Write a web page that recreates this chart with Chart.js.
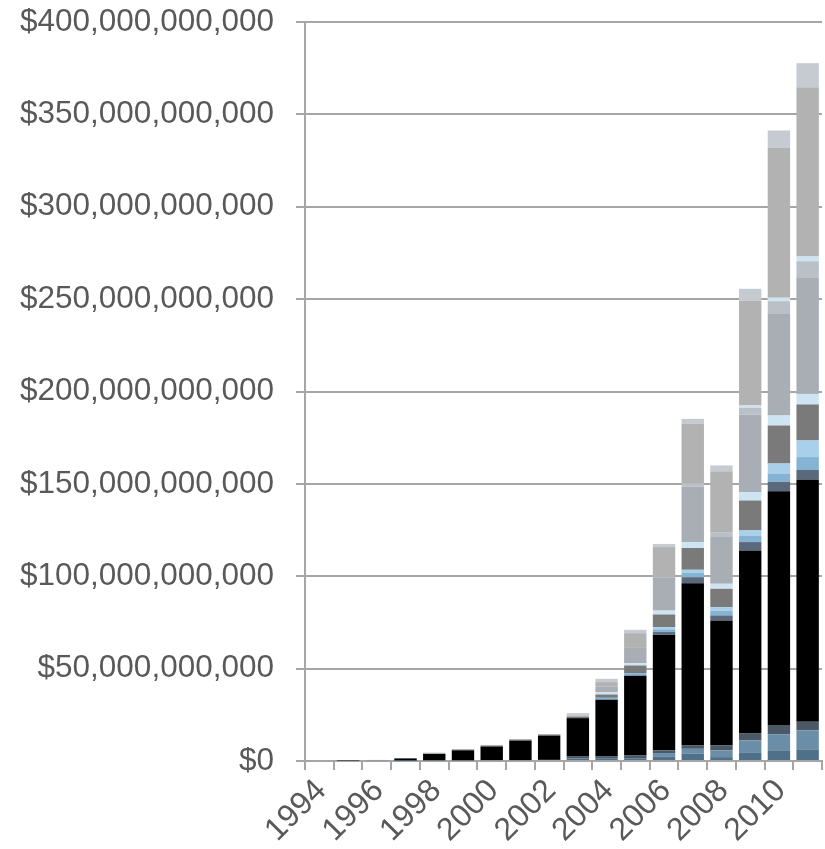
<!DOCTYPE html>
<html>
<head>
<meta charset="utf-8">
<script src="https://cdn.jsdelivr.net/npm/chart.js@4/dist/chart.umd.min.js"></script>
<style>
  html, body { margin: 0; padding: 0; background: #fff; }
  #wrap { width: 825px; height: 849px; }
</style>
</head>
<body>
<div id="wrap"><canvas id="chart"></canvas></div>
<script>
// years on the x axis
const years = ["1994","1995","1996","1997","1998","1999","2000","2001","2002",
  "2003","2004","2005","2006","2007","2008","2009","2010","2011"];

// stacked series, bottom to top, in billions of dollars
const darkSteel   = [0, 0, 0, 0.2, 0.4, 0.4, 0.5, 0.5, 0.6, 1.3, 1.5, 1.5, 2.5, 3.9, 2.1, 4.7, 5.8, 6.3];
const steelBlue   = [0, 0, 0, 0, 0, 0, 0, 0, 0, 0, 0, 0, 1.8, 2.7, 3.6, 6.5, 8.7, 10.3];
const darkSlate   = [0, 0, 0, 0, 0, 0, 0, 0, 0, 1.1, 1.1, 1.5, 1.5, 1.8, 2.7, 3.9, 5.0, 4.7];
const blackMain   = [0, 0.3, 0.5, 1.2, 3.4, 5.4, 7.4, 10.6, 13.2, 20.8, 30.5, 43.1, 62.6, 87.8, 67.7, 98.9, 126.5, 130.9];
const slate       = [0, 0, 0, 0, 0, 0, 0, 0, 0, 0, 0, 0, 1.4, 3.3, 2.7, 4.5, 5.1, 5.4];
const blue        = [0, 0, 0, 0, 0, 0, 0, 0, 0, 0, 1.1, 1.5, 1.5, 2.5, 2.5, 3.3, 4.5, 6.9];
const lightBlue   = [0, 0, 0, 0, 0, 0, 0, 0, 0, 0, 0, 0, 1.2, 1.5, 2.0, 3.0, 5.4, 9.0];
const darkGray    = [0, 0, 0, 0, 0, 0, 0, 0, 0, 0.9, 1.8, 4.1, 6.8, 11.8, 9.9, 16.2, 20.6, 19.5];
const paleBlue    = [0, 0, 0, 0, 0, 0, 0, 0, 0, 0, 1.3, 1.3, 2.1, 3.2, 2.7, 4.5, 5.4, 5.7];
const grayBlue    = [0, 0, 0, 0, 0, 0, 0, 0, 0, 0, 3.0, 8.6, 18.1, 30.1, 25.3, 42.1, 55.4, 63.2];
const lightGrayBl = [0, 0, 0, 0, 0, 0, 0, 0, 0, 0, 0, 0, 0, 1.8, 2.7, 3.6, 6.5, 8.6];
const paleBlue2   = [0, 0, 0, 0, 0, 0, 0, 0, 0, 0, 0, 0, 0, 0, 0, 1.2, 1.8, 2.6];
const gray        = [0, 0, 0, 0, 0.7, 0.7, 0.8, 0.8, 0.8, 0, 2.4, 7.6, 16.3, 32.1, 33.0, 56.9, 81.2, 91.6];
const topGray     = [0, 0, 0.1, 0.2, 0, 0, 0, 0, 0, 1.8, 1.8, 1.8, 1.7, 2.7, 3.1, 6.3, 9.4, 13.0];

const series = [
  [darkSteel, "#4f7089"],
  [steelBlue, "#6a8ea8"],
  [darkSlate, "#4b5866"],
  [blackMain, "#000000"],
  [slate, "#5a6a7c"],
  [blue, "#85b3d4"],
  [lightBlue, "#a8d0ea"],
  [darkGray, "#7a7a7a"],
  [paleBlue, "#cde4f2"],
  [grayBlue, "#a9adb4"],
  [lightGrayBl, "#b9c0c7"],
  [paleBlue2, "#cde4f2"],
  [gray, "#b2b2b2"],
  [topGray, "#c6cbd2"]
];

const B = 1e9;
const datasets = series.map(([vals, color]) => ({
  data: vals.map((v) => v * B),
  backgroundColor: color,
  borderWidth: 0,
  categoryPercentage: 1,
  barPercentage: 0.78
}));

const ctx = document.getElementById("chart").getContext("2d");
new Chart(ctx, {
  type: "bar",
  data: { labels: years, datasets: datasets },
  options: {
    responsive: true,
    maintainAspectRatio: false,
    animation: false,
    layout: { padding: { top: 22, right: 3, left: 0, bottom: 0 } },
    plugins: { legend: { display: false }, tooltip: { enabled: false } },
    scales: {
      x: {
        stacked: true,
        afterFit: (scale) => { scale.height = 88; scale.paddingRight = 0; },
        border: { display: true, color: "#a6a6a6", width: 2 },
        grid: { offset: true, drawOnChartArea: false, drawTicks: true, tickLength: 9, color: "#a6a6a6", lineWidth: 2 },
        ticks: {
          autoSkip: false,
          maxRotation: 45,
          minRotation: 45,
          padding: 2,
          labelOffset: 2,
          color: "#595959",
          font: { family: "'Liberation Sans', Arial, sans-serif", size: 32 },
          callback: function (val, i) { return i % 2 === 0 ? years[i] : ""; }
        }
      },
      y: {
        stacked: true,
        min: 0,
        max: 400 * B,
        afterFit: (scale) => { scale.width = 305; scale.paddingTop = 0; scale.paddingBottom = 0; },
        border: { display: true, color: "#a6a6a6", width: 2 },
        grid: { color: "#a6a6a6", lineWidth: 2, tickLength: 9 },
        ticks: {
          stepSize: 50 * B,
          padding: 22,
          color: "#595959",
          font: { family: "'Liberation Sans', Arial, sans-serif", size: 31.5 },
          callback: (v) => "$" + Math.round(v).toLocaleString("en-US")
        }
      }
    }
  }
});
</script>
</body>
</html>
